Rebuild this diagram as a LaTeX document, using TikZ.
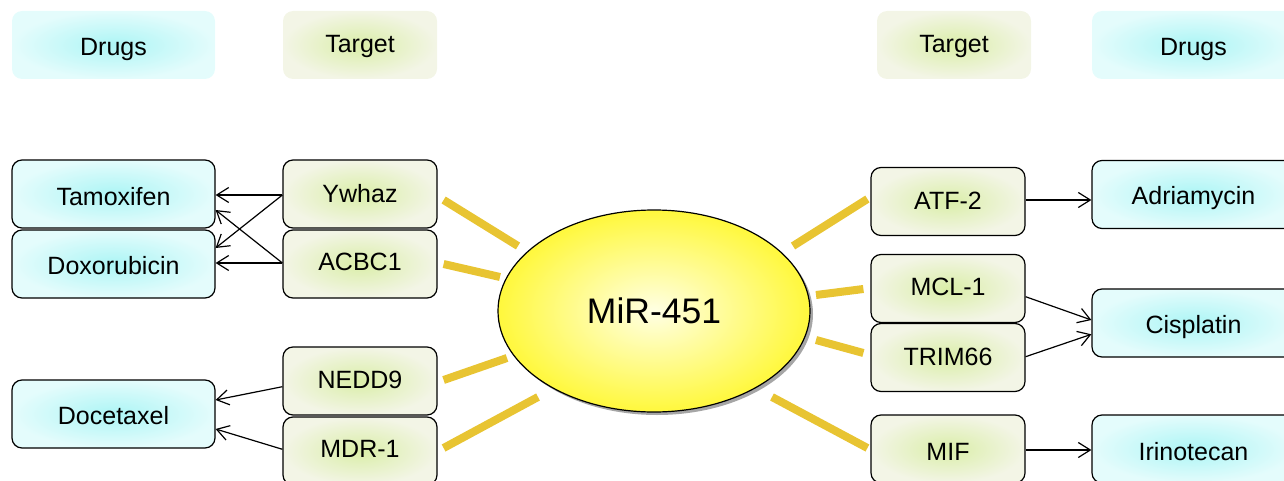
\documentclass[tikz,border=0pt]{standalone}
\usepackage{fontspec}
\setmainfont{Liberation Sans}
\usetikzlibrary{arrows.meta,shapes.geometric,shadows,calc}
\definecolor{druginner}{RGB}{172,245,245}
\definecolor{drugouter}{RGB}{228,252,252}
\definecolor{targinner}{RGB}{218,238,168}
\definecolor{targouter}{RGB}{243,245,230}
\definecolor{mirinner}{RGB}{255,255,228}
\definecolor{mirouter}{RGB}{255,248,60}
\definecolor{barcol}{RGB}{232,196,50}
\tikzset{
  box/.style={rounded corners=10pt, minimum height=68pt, inner sep=0pt, font=\fontsize{25}{29}\selectfont, line width=1.2pt, text depth=0pt},
  bl/.style={text height=#1},
  drugbox/.style={box, draw=black, minimum width=203pt, shading=radial, inner color=druginner, outer color=drugouter},
  targbox/.style={box, draw=black, minimum width=154pt, shading=radial, inner color=targinner, outer color=targouter},
  drughead/.style={box, minimum width=203pt, shading=radial, inner color=druginner, outer color=drugouter},
  targhead/.style={box, minimum width=154pt, shading=radial, inner color=targinner, outer color=targouter},
  bar/.style={line width=8pt, draw=barcol},
  arr/.style={line width=1.2pt, -{Straight Barb[length=12pt,width=15pt]}},
}
\begin{document}
\begin{tikzpicture}[x=1pt,y=-1pt]
\useasboundingbox (0,0) rectangle (1284,481);
% headers
\node[drughead, bl=21.4pt] (hdl) at (113.5,45) {Drugs};
\node[targhead, bl=14.6pt] (htl) at (360,45) {Target};
\node[targhead, bl=14.6pt] (htr) at (954,45) {Target};
\node[drughead, bl=21.4pt] (hdr) at (1193.5,45) {Drugs};
% left drugs
\node[drugbox, bl=22pt] (tamox) at (113.5,194) {Tamoxifen};
\node[drugbox, bl=20pt] (doxo) at (113.5,264) {Doxorubicin};
\node[drugbox, bl=20pt] (doce) at (113.5,414) {Docetaxel};
% left targets
\node[targbox, bl=16.6pt] (ywhaz) at (360,194) {Ywhaz};
\node[targbox, bl=12pt] (acbc) at (360,264) {ACBC1};
\node[targbox, bl=14.6pt] (nedd) at (360,381) {NEDD9};
\node[targbox, bl=12.6pt] (mdr) at (360,451) {MDR-1};
% right targets
\node[targbox, bl=15pt] (atf) at (948,201.5) {ATF-2};
\node[targbox, bl=14.4pt] (mcl) at (948,288.5) {MCL-1};
\node[targbox, bl=15pt] (trim) at (948,357.5) {TRIM66};
\node[targbox, bl=22pt] (mif) at (948,449) {MIF};
% right drugs
\node[drugbox, bl=19.6pt] (adria) at (1193.5,194.5) {Adriamycin};
\node[drugbox, bl=20.6pt] (cispl) at (1193.5,323) {Cisplatin};
\node[drugbox, bl=22pt] (irino) at (1193.5,449) {Irinotecan};
% center
\node[ellipse, draw=black, line width=1.2pt, minimum width=312pt, minimum height=202pt,
      shading=radial, inner color=mirinner, outer color=mirouter,
      drop shadow={shadow xshift=3pt, shadow yshift=-3pt, fill=black!35, opacity=1},
      font=\fontsize{35.5}{40}\selectfont] (mir) at (654,311) {MiR-451};
% yellow bars
\draw[bar] ($(ywhaz.east)+(6,6)$) -- ($(mir.center)+(-136,-65)$);
\draw[bar] ($(acbc.east)+(6,0)$) -- ($(mir.center)+(-154,-34)$);
\draw[bar] ($(nedd.east)+(6,-1)$) -- ($(mir.center)+(-147,47)$);
\draw[bar] ($(mdr.east)+(6,-3)$) -- ($(mir.center)+(-116,86)$);
\draw[bar] ($(atf.west)+(-3,-2.5)$) -- ($(mir.center)+(139,-65)$);
\draw[bar] ($(mcl.west)+(-7,0.5)$) -- ($(mir.center)+(162,-16)$);
\draw[bar] ($(trim.west)+(-7,-4.5)$) -- ($(mir.center)+(162,29)$);
\draw[bar] ($(mif.west)+(-3,-1)$) -- ($(mir.center)+(118,86)$);
% arrows left
\draw[arr] ([yshift=-1pt]ywhaz.west) -- ([yshift=-1pt]tamox.east);
\draw[arr] ([yshift=-1pt]ywhaz.west) -- ([yshift=16pt]doxo.east);
\draw[arr] ([yshift=1pt]acbc.west) -- ([yshift=-16pt]tamox.east);
\draw[arr] ([yshift=1pt]acbc.west) -- ([yshift=1pt]doxo.east);
\draw[arr] ([yshift=-5.7pt]nedd.west) -- ([yshift=14pt]doce.east);
\draw[arr] ([yshift=1.7pt]mdr.west) -- ([yshift=-15pt]doce.east);
% arrows right
\draw[arr] ([yshift=1.5pt]atf.east) -- ([yshift=1.5pt]atf.east -| adria.west);
\draw[arr] ([yshift=-8.2pt]mcl.east) -- ([yshift=3pt]cispl.west);
\draw[arr] ([yshift=0.8pt]trim.east) -- ([yshift=-11.3pt]cispl.west);
\draw[arr] ([yshift=-1pt]mif.east) -- ([yshift=-1pt]mif.east -| irino.west);
\end{tikzpicture}
\end{document}
